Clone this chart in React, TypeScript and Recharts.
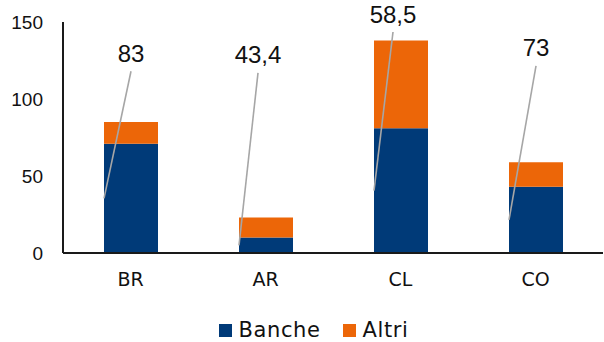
import { Bar, BarChart, LabelList, Legend, XAxis, YAxis } from "recharts";

const countries = ["BR", "AR", "CL", "CO"];
const banche = [71, 10, 81, 43];
const altri = [14, 13, 57, 16];
const shareLabels = ["83", "43,4", "58,5", "73"];
const yTicks = [0, 50, 100, 150];
const seriesOrder = ["Banche", "Altri"];

const chartData = countries.map((country, i) => ({
  country,
  banche: banche[i],
  altri: altri[i],
}));

// leader lines: top end (in axis units) and a small horizontal nudge per label
const leaderTop = [118, 117, 143.5, 121.5];
const leaderDx = [0, -8, -8, 0];

const BLUE = "#003a78";
const ORANGE = "#ec6608";
const numFont = "'Liberation Sans', Arial, sans-serif";
const textFont = "'DejaVu Sans', sans-serif";

function ShareLabel(props: any) {
  const { index } = props;
  const vb = props.viewBox ?? props;
  const w = Number(vb.width);
  const h = Number(vb.height);
  const x = Math.min(Number(vb.x), Number(vb.x) + w);
  const y = Math.min(Number(vb.y), Number(vb.y) + h);
  const width = Math.abs(w);
  const height = Math.abs(h);
  const k = height / altri[index];
  const base = y + height + banche[index] * k;
  const x0 = x;
  const y0 = base - (banche[index] / 2) * k;
  const x1 = x + width / 2 + leaderDx[index];
  const y1 = base - leaderTop[index] * k;
  return (
    <g>
      <line x1={x0} y1={y0} x2={x1} y2={y1} stroke="#a6a6a6" strokeWidth={1.6} />
      <text
        x={x1}
        y={y1 - 18}
        textAnchor="middle"
        dominantBaseline="central"
        fontSize={24}
        fontFamily={numFont}
        fill="#111"
      >
        {shareLabels[index]}
      </text>
    </g>
  );
}

function LegendBox(props: any) {
  const items = [...(props.payload ?? [])].sort(
    (a: any, b: any) => seriesOrder.indexOf(a.value) - seriesOrder.indexOf(b.value)
  );
  return (
    <div
      style={{
        display: "flex",
        justifyContent: "center",
        gap: 22,
        paddingLeft: 24,
        fontFamily: textFont,
        fontSize: 21,
        color: "#111",
        lineHeight: "24px",
      }}
    >
      {items.map((item: any) => (
        <div key={item.value} style={{ display: "flex", alignItems: "center", gap: 7 }}>
          <span style={{ width: 13, height: 13, background: item.color, display: "inline-block" }} />
          <span style={{ letterSpacing: 0.6 }}>{item.value}</span>
        </div>
      ))}
    </div>
  );
}

export default function App() {
  return (
    <div style={{ position: "absolute", left: 0, top: 0, background: "#fff" }}>
      <BarChart
        width={604}
        height={342}
        data={chartData}
        margin={{ top: 22, right: 1, left: 0, bottom: 0 }}
        barSize={54}
      >
        <XAxis
          dataKey="country"
          height={65}
          tickLine={false}
          tickSize={0}
          tickMargin={20}
          axisLine={{ stroke: "#1a1a1a", strokeWidth: 2 }}
          tick={{ fill: "#111", fontSize: 19, fontFamily: textFont }}
        />
        <YAxis
          width={63}
          domain={[0, 150]}
          ticks={yTicks}
          tickLine={false}
          tickSize={0}
          tickMargin={20}
          axisLine={{ stroke: "#1a1a1a", strokeWidth: 2 }}
          tick={{ fill: "#111", fontSize: 19, fontFamily: numFont }}
        />
        <Legend verticalAlign="bottom" height={24} content={<LegendBox />} />
        <Bar dataKey="banche" name="Banche" stackId="a" fill={BLUE} isAnimationActive={false} />
        <Bar dataKey="altri" name="Altri" stackId="a" fill={ORANGE} isAnimationActive={false}>
          <LabelList dataKey="altri" content={<ShareLabel />} />
        </Bar>
      </BarChart>
    </div>
  );
}
